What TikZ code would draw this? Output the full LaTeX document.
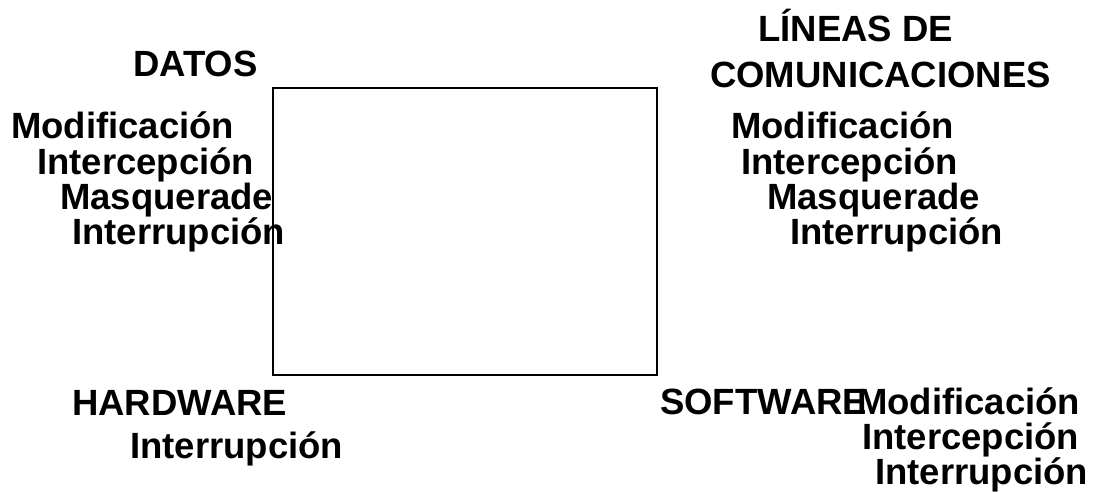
\documentclass[tikz,border=0pt]{standalone}
\usepackage{fontspec}
\setmainfont{Liberation Sans}
\usepackage{tikz}
\usetikzlibrary{positioning}

\begin{document}
\begin{tikzpicture}[x=1pt, y=-1pt, lbl/.style={inner sep=0pt, anchor=base west, font=\fontsize{36.5}{40}\selectfont\bfseries}]
        \useasboundingbox (0,0) rectangle (1097,492);
        \node (box) [rectangle, draw, line width=1.2pt, minimum width=384pt, minimum height=287pt, inner sep=0pt] at (465,231.5) {};

        \node (datos) [lbl] at (133,77) {DATOS};
        \node (dmod) [lbl] at (11,139) {Modificación};
        \node (dint) [lbl] at (37,174) {Intercepción};
        \node (dmas) [lbl] at (60,209) {Masquerade};
        \node (dirr) [lbl] at (72,244) {Interrupción};

        \node (lin) [lbl] at (758,42) {LÍNEAS DE};
        \node (com) [lbl] at (710,88) {COMUNICACIONES};
        \node (lmod) [lbl] at (731,139) {Modificación};
        \node (lint) [lbl] at (741,174) {Intercepción};
        \node (lmas) [lbl] at (767,209) {Masquerade};
        \node (lirr) [lbl] at (790,244) {Interrupción};

        \node (hw) [lbl] at (72,415) {HARDWARE};
        \node (hirr) [lbl] at (130,458) {Interrupción};

        \node (sw) [lbl] at (660,414) {SOFTWARE};
        \node (smod) [lbl] at (857,414) {Modificación};
        \node (sint) [lbl] at (862,449) {Intercepción};
        \node (sirr) [lbl] at (875,484) {Interrupción};
    \end{tikzpicture}
\end{document}
